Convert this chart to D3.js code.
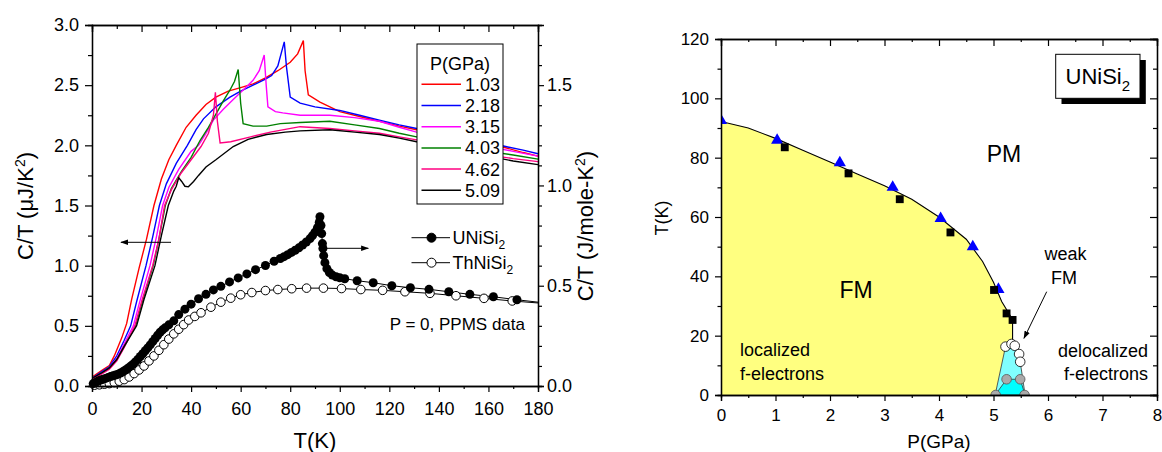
<!DOCTYPE html>
<html>
<head>
<meta charset="utf-8">
<script src="https://cdn.jsdelivr.net/npm/d3@7"></script>
<style>
  body { margin: 0; background: #fff; }
  text { font-family: "Liberation Sans", Arial, sans-serif; fill: #000; }
</style>
</head>
<body>
<svg id="chart" width="1162" height="452"></svg>
<script>
// ---------- left panel data: C/T (uJ/K^2) vs T(K) under pressure ----------
const pressures = ['1.03', '2.18', '3.15', '4.03', '4.62', '5.09'];

const ct103 = [[0.5,0.08],[4,0.13],[7,0.17],[9,0.25],[12,0.4],[14,0.52],[16,0.72],[19,0.98],[22,1.22],[25,1.5],[28,1.72],[31,1.88],[34,2.0],[38,2.15],[42,2.25],[46,2.34],[50,2.4],[55,2.45],[60,2.48],[65,2.51],[70,2.56],[75,2.62],[80,2.69],[83,2.76],[85.3,2.87],[86,2.62],[87.3,2.42],[92,2.36],[100,2.28],[108,2.24],[116,2.2],[124,2.16],[131,2.13],[140,2.09],[150,2.05],[160,2.01],[167,1.98],[174,1.94],[180,1.91]];
const ct218 = [[0.5,0.07],[4,0.12],[7,0.16],[10,0.25],[13,0.38],[15.6,0.5],[18,0.7],[21.8,1.0],[24.5,1.24],[27.2,1.5],[30,1.68],[34,1.85],[38.5,2.0],[42,2.13],[45,2.22],[50,2.32],[55.7,2.4],[60,2.45],[65,2.5],[70,2.55],[72.5,2.58],[75,2.66],[77.6,2.86],[78.5,2.65],[80,2.4],[84,2.35],[90,2.32],[100,2.29],[108,2.25],[116,2.21],[124,2.17],[131,2.14],[140,2.1],[150,2.06],[160,2.02],[167,1.99],[174,1.96],[180,1.93]];
const ct315 = [[0.5,0.06],[4,0.11],[7,0.15],[10,0.23],[13,0.35],[16.7,0.5],[19,0.68],[23.4,1.0],[26,1.24],[28.5,1.5],[31,1.65],[35,1.8],[40,1.95],[43,2.0],[46,2.1],[49,2.21],[53,2.3],[57,2.38],[61,2.46],[65,2.54],[67.5,2.62],[69.5,2.75],[70.3,2.5],[71,2.32],[74,2.28],[77,2.27],[84,2.25],[96,2.25],[106,2.23],[116,2.2],[124,2.15],[131,2.11],[140,2.07],[150,2.03],[160,1.99],[170,1.95],[180,1.91]];
const ct403 = [[0.5,0.06],[4,0.11],[7,0.15],[10,0.22],[13,0.33],[17.6,0.5],[20,0.68],[24.7,1.0],[27,1.22],[29.6,1.5],[32,1.64],[36,1.78],[40,1.9],[43.6,2.04],[47,2.15],[50.3,2.27],[53,2.37],[55.7,2.46],[57.5,2.53],[59,2.63],[60,2.35],[61,2.18],[65,2.16],[70.5,2.16],[76,2.18],[84,2.19],[96,2.2],[106,2.17],[116,2.14],[124,2.1],[131,2.07],[140,2.03],[150,1.99],[160,1.95],[170,1.92],[180,1.885]];
const ct462 = [[0.5,0.06],[4,0.1],[7,0.14],[10,0.21],[13,0.32],[17.3,0.5],[20,0.7],[24.5,1.0],[27,1.22],[29.3,1.5],[32,1.63],[36,1.77],[40,1.88],[44,1.99],[47,2.1],[49,2.25],[49.8,2.44],[50.6,2.2],[51.7,2.02],[56,2.03],[64,2.07],[72,2.11],[84,2.155],[96,2.14],[106,2.12],[116,2.1],[124,2.07],[131,2.045],[140,2.0],[150,1.96],[160,1.92],[170,1.89],[180,1.865]];
const ct509 = [[0.5,0.07],[4,0.11],[7,0.15],[10,0.22],[13,0.33],[18,0.5],[21,0.72],[25.4,1.0],[28,1.25],[30.8,1.5],[33,1.62],[34,1.66],[35,1.73],[36.2,1.7],[37.5,1.66],[38.9,1.655],[41,1.7],[43,1.75],[46,1.82],[50,1.88],[57,1.99],[63,2.05],[70.5,2.09],[78,2.11],[84,2.12],[96,2.13],[106,2.11],[116,2.09],[124,2.06],[131,2.03],[140,1.99],[150,1.95],[160,1.91],[170,1.87],[180,1.84]];
const pressureCurves = [ct103, ct218, ct315, ct403, ct462, ct509];
const curveColors = ['#ff0000', '#0000ff', '#ff00ff', '#008000', '#ff0080', '#000000'];

// P = 0 data, C/T in J/mole-K^2 (right axis)
const uniSi2 = [[0.5,0.012],[1.5,0.018],[2.5,0.025],[3.5,0.03],[4.5,0.034],[5.5,0.038],[6.5,0.043],[7.5,0.047],[8.5,0.051],[9.5,0.055],[10.5,0.059],[11.5,0.065],[12.5,0.072],[13.5,0.08],[14.5,0.089],[15.5,0.098],[16.5,0.108],[17.5,0.12],[18.5,0.133],[19.5,0.147],[20.5,0.161],[21.5,0.176],[22.5,0.19],[23.5,0.205],[24.5,0.221],[25.5,0.237],[26.5,0.253],[27.5,0.268],[28.5,0.28],[29.5,0.29],[31,0.305],[33,0.325],[35,0.356],[37.5,0.383],[40,0.408],[43,0.435],[46,0.457],[49,0.479],[52,0.497],[55.5,0.519],[59,0.539],[62.5,0.559],[66,0.58],[70,0.601],[73.5,0.622],[76,0.636],[77.5,0.645],[79,0.655],[80.5,0.666],[82,0.677],[83.5,0.689],[85,0.703],[86.5,0.718],[88,0.735],[89,0.75],[90,0.767],[91,0.79],[91.7,0.815],[92,0.844],[92.4,0.8],[92.7,0.76],[93,0.71],[93.2,0.686],[93.5,0.65],[94,0.615],[94.8,0.585],[95.8,0.566],[97,0.553],[98.5,0.545],[100,0.54],[102,0.535],[107,0.525],[113.5,0.515],[121,0.5],[128.5,0.49],[136,0.482],[144,0.47],[152.5,0.457],[162,0.445],[171.5,0.43]];
const thNiSi2 = [[1,0.004],[3,0.006],[5,0.009],[7,0.012],[9,0.017],[11,0.024],[13,0.032],[15,0.045],[17,0.062],[19,0.08],[21,0.1],[23,0.125],[25,0.15],[27,0.178],[29,0.206],[31,0.234],[33,0.26],[35,0.283],[37,0.306],[39,0.329],[41.5,0.347],[44,0.365],[48,0.393],[52,0.418],[56,0.438],[60,0.455],[64.5,0.466],[70,0.476],[75,0.481],[80.6,0.485],[86.6,0.488],[93.4,0.488],[100.7,0.486],[108.5,0.481],[117.3,0.477],[126.3,0.47],[136.4,0.462],[146.9,0.45],[158.2,0.437],[169.6,0.424]];
const uniSi2LineEnd = [180, 0.418];
const thNiSi2LineEnd = [180, 0.414];

// ---------- right panel data: T(K) vs P(GPa) phase diagram ----------
const tcTriangles = [[0,92.5],[1.03,85.9],[2.18,78.3],[3.15,70],[4.03,59.5],[4.62,50],[5.09,35.6]];
const tcSquares = [[1.17,83.5],[2.34,74.7],[3.28,66],[4.21,54.8],[5.01,35.4],[5.24,27.5],[5.35,25.3]];
const boundary = [[0,92.2],[0.5,90],[1,86.5],[1.5,82.5],[2,78.5],[2.5,74.5],[3,70.5],[3.5,66],[4,60],[4.5,52.5],[4.8,45],[5,38],[5.15,31.5],[5.3,27],[5.35,25.3],[5.35,17]];
const weakOpen = [[5.22,16.3],[5.33,17.2],[5.39,16.6],[5.47,13.8],[5.49,11.2]];
const weakGray = [[5.24,5.3],[5.49,5.3],[5.04,0],[5.57,0]];
const weakUpper = [[5.03,0],[5.22,16.3],[5.33,17.2],[5.39,16.6],[5.47,13.8],[5.49,11.2],[5.58,0]];
const weakLower = [[5.03,0],[5.24,5.3],[5.49,5.3],[5.58,0]];

const svg = d3.select('#chart');
svg.append('rect').attr('width', 1162).attr('height', 452).attr('fill', '#fff');

const defs = svg.append('defs');
defs.append('marker').attr('id', 'arrow')
  .attr('viewBox', '0 0 10 10').attr('refX', 9).attr('refY', 5)
  .attr('markerWidth', 8).attr('markerHeight', 8).attr('orient', 'auto')
  .attr('markerUnits', 'userSpaceOnUse')
  .append('path').attr('d', 'M0,1.5 L10,5 L0,8.5 Z').attr('fill', '#000');
defs.append('clipPath').attr('id', 'clipR')
  .append('rect').attr('x', 721).attr('y', 39).attr('width', 436).attr('height', 356);

function styleAxis(g, fontSize) {
  g.select('.domain').attr('stroke', '#000').attr('stroke-width', 1.3);
  g.selectAll('.tick line').attr('stroke', '#000').attr('stroke-width', 1.2);
  g.selectAll('.tick text').style('font-size', fontSize + 'px').attr('fill', '#000');
}

function addAxis(axis, x, y, fontSize) {
  const g = svg.append('g').attr('transform', `translate(${x},${y})`).call(axis);
  styleAxis(g, fontSize);
  return g;
}

// ================= LEFT PANEL =================
const xT = d3.scaleLinear().domain([0, 180]).range([92, 538]);
const yL = d3.scaleLinear().domain([0, 3]).range([386, 25]);
const yR = d3.scaleLinear().domain([0, 1.8]).range([386, 25]);
const f1 = d3.format('.1f');

// Pressure curves
const lineL = d3.line().x(d => xT(d[0])).y(d => yL(d[1]));
pressureCurves.forEach((c, i) => {
  svg.append('path').datum(c)
    .attr('d', lineL).attr('fill', 'none')
    .attr('stroke', curveColors[i]).attr('stroke-width', 1.4);
});

// P = 0 data (right axis)
const lineR = d3.line().x(d => xT(d[0])).y(d => yR(d[1]));
svg.append('path').datum(thNiSi2.concat([thNiSi2LineEnd]))
  .attr('d', lineR).attr('fill', 'none').attr('stroke', '#000').attr('stroke-width', 1);
svg.append('path').datum(uniSi2.concat([uniSi2LineEnd]))
  .attr('d', lineR).attr('fill', 'none').attr('stroke', '#000').attr('stroke-width', 1);
svg.append('g').selectAll('circle').data(thNiSi2).join('circle')
  .attr('cx', d => xT(d[0])).attr('cy', d => yR(d[1])).attr('r', 4.3)
  .attr('fill', '#fff').attr('stroke', '#000').attr('stroke-width', 1);
svg.append('g').selectAll('circle').data(uniSi2).join('circle')
  .attr('cx', d => xT(d[0])).attr('cy', d => yR(d[1])).attr('r', 4.5)
  .attr('fill', '#000');

// Axes
addAxis(d3.axisBottom(xT).tickValues(d3.range(0, 181, 20)).tickSize(6).tickPadding(10), 0, 386, 18);
addAxis(d3.axisBottom(xT).tickValues(d3.range(10, 180, 20)).tickSize(3).tickFormat(''), 0, 386, 18);
addAxis(d3.axisTop(xT).tickValues(d3.range(0, 181, 20)).tickSize(-7).tickFormat(''), 0, 25, 18);
addAxis(d3.axisTop(xT).tickValues(d3.range(10, 180, 20)).tickSize(-4).tickFormat(''), 0, 25, 18);
addAxis(d3.axisLeft(yL).tickValues(d3.range(0, 3.01, 0.5)).tickSize(7).tickPadding(6).tickFormat(f1), 92, 0, 18);
addAxis(d3.axisLeft(yL).tickValues(d3.range(0.25, 3, 0.5)).tickSize(4).tickFormat(''), 92, 0, 18);
addAxis(d3.axisRight(yR).tickValues([0, 0.5, 1.0, 1.5]).tickSize(6).tickPadding(3).tickFormat(f1), 538, 0, 18);
addAxis(d3.axisRight(yR).tickValues(d3.range(0.1, 1.75, 0.1).filter(v => Math.abs(v * 2 - Math.round(v * 2)) > 0.01)).tickSize(4).tickFormat(''), 538, 0, 18);

// Axis titles
svg.append('text').attr('transform', 'translate(33,206) rotate(-90)')
  .attr('text-anchor', 'middle').style('font-size', '22px')
  .html('C/T (&#956;J/K<tspan dy="-8" style="font-size:14px">2</tspan><tspan dy="8">)</tspan>');
svg.append('text').attr('transform', 'translate(593,226) rotate(-90)')
  .attr('text-anchor', 'middle').style('font-size', '22px')
  .html('C/T (J/mole-K<tspan dy="-8" style="font-size:14px">2</tspan><tspan dy="8">)</tspan>');
svg.append('text').attr('x', 315).attr('y', 448).attr('text-anchor', 'middle')
  .style('font-size', '22px').text('T(K)');

// Pressure legend
const lg = svg.append('g');
lg.append('rect').attr('x', 417).attr('y', 44).attr('width', 86).attr('height', 160)
  .attr('fill', '#fff').attr('stroke', '#000').attr('stroke-width', 1);
lg.append('text').attr('x', 460).attr('y', 70).attr('text-anchor', 'middle')
  .style('font-size', '18px').text('P(GPa)');
pressures.forEach((p, i) => {
  const y = 84.3 + i * 21.2;
  lg.append('line').attr('x1', 421.5).attr('x2', 461).attr('y1', y).attr('y2', y)
    .attr('stroke', curveColors[i]).attr('stroke-width', 1.5);
  lg.append('text').attr('x', 465).attr('y', y + 6.5).style('font-size', '18px').text(p);
});

// Compound legend
const cl = svg.append('g');
[['UNiSi', '#000', 237.7], ['ThNiSi', '#fff', 262.7]].forEach(([name, fill, y]) => {
  cl.append('line').attr('x1', 411.5).attr('x2', 450).attr('y1', y).attr('y2', y)
    .attr('stroke', '#000').attr('stroke-width', 1);
  cl.append('circle').attr('cx', 431.5).attr('cy', y).attr('r', 4.5)
    .attr('fill', fill).attr('stroke', '#000').attr('stroke-width', 1);
  cl.append('text').attr('x', 452.5).attr('y', y + 6.5).style('font-size', '18px')
    .html(`${name}<tspan dy="5" style="font-size:12px">2</tspan>`);
});
svg.append('text').attr('x', 525).attr('y', 330).attr('text-anchor', 'end')
  .style('font-size', '17px').text('P = 0, PPMS data');

// Arrows pointing to the axes
svg.append('line').attr('x1', 171).attr('y1', 242.3).attr('x2', 121).attr('y2', 242.3)
  .attr('stroke', '#000').attr('stroke-width', 1).attr('marker-end', 'url(#arrow)');
svg.append('line').attr('x1', 326.7).attr('y1', 248.3).attr('x2', 368.3).attr('y2', 248.3)
  .attr('stroke', '#000').attr('stroke-width', 1).attr('marker-end', 'url(#arrow)');

// ================= RIGHT PANEL =================
const xP = d3.scaleLinear().domain([0, 8]).range([721, 1157]);
const yK = d3.scaleLinear().domain([0, 120]).range([395, 39]);
const lineP = d3.line().x(d => xP(d[0])).y(d => yK(d[1]));

const plotR = svg.append('g').attr('clip-path', 'url(#clipR)');

// FM region (yellow)
const fmRegion = [[0, 0]].concat(boundary, weakUpper.slice(0, 2).reverse());
plotR.append('path').datum(fmRegion).attr('d', d => lineP(d) + 'Z')
  .attr('fill', '#ffff80').attr('stroke', 'none');
// weak FM regions (cyan)
plotR.append('path').datum(weakUpper).attr('d', d => lineP(d) + 'Z')
  .attr('fill', '#80ffff').attr('stroke', '#333').attr('stroke-width', 0.8);
plotR.append('path').datum(weakLower).attr('d', d => lineP(d) + 'Z')
  .attr('fill', '#00ffff').attr('stroke', '#333').attr('stroke-width', 0.8);
// boundary line
plotR.append('path').datum(boundary).attr('d', lineP)
  .attr('fill', 'none').attr('stroke', '#000').attr('stroke-width', 1.1);

// markers
plotR.append('g').selectAll('path').data(tcTriangles).join('path')
  .attr('transform', d => `translate(${xP(d[0])},${yK(d[1])})`)
  .attr('d', d3.symbol(d3.symbolTriangle, 64))
  .attr('fill', '#0000ff');
plotR.append('g').selectAll('path').data(tcSquares).join('path')
  .attr('transform', d => `translate(${xP(d[0])},${yK(d[1])})`)
  .attr('d', d3.symbol(d3.symbolSquare, 62))
  .attr('fill', '#000');
plotR.append('g').selectAll('circle').data(weakGray).join('circle')
  .attr('cx', d => xP(d[0])).attr('cy', d => yK(d[1])).attr('r', 4.8)
  .attr('fill', '#aaaaaa').attr('stroke', '#555').attr('stroke-width', 0.8);
plotR.append('g').selectAll('circle').data(weakOpen).join('circle')
  .attr('cx', d => xP(d[0])).attr('cy', d => yK(d[1])).attr('r', 4.8)
  .attr('fill', '#fff').attr('stroke', '#000').attr('stroke-width', 0.8);

// Axes
addAxis(d3.axisBottom(xP).tickValues(d3.range(0, 9, 1)).tickSize(6).tickPadding(8), 0, 395, 17);
addAxis(d3.axisBottom(xP).tickValues(d3.range(0.5, 8, 1)).tickSize(3).tickFormat(''), 0, 395, 17);
addAxis(d3.axisTop(xP).tickValues(d3.range(0, 9, 1)).tickSize(-7).tickFormat(''), 0, 39, 17);
addAxis(d3.axisTop(xP).tickValues(d3.range(0.5, 8, 1)).tickSize(-3).tickFormat(''), 0, 39, 17);
addAxis(d3.axisLeft(yK).tickValues(d3.range(0, 121, 20)).tickSize(6).tickPadding(6), 721, 0, 17);
addAxis(d3.axisLeft(yK).tickValues(d3.range(10, 120, 20)).tickSize(3.5).tickFormat(''), 721, 0, 17);
addAxis(d3.axisLeft(yK).tickValues(d3.range(0, 121, 20)).tickSize(7).tickFormat(''), 1157, 0, 17);
addAxis(d3.axisLeft(yK).tickValues(d3.range(10, 120, 20)).tickSize(4).tickFormat(''), 1157, 0, 17);

svg.append('text').attr('transform', 'translate(668,218) rotate(-90)')
  .attr('text-anchor', 'middle').style('font-size', '18px').text('T(K)');
svg.append('text').attr('x', 939).attr('y', 448).attr('text-anchor', 'middle')
  .style('font-size', '19px').text('P(GPa)');

// region labels
svg.append('text').attr('x', 1004).attr('y', 161.5).attr('text-anchor', 'middle')
  .style('font-size', '23px').text('PM');
svg.append('text').attr('x', 856).attr('y', 298).attr('text-anchor', 'middle')
  .style('font-size', '23px').text('FM');
svg.append('text').attr('x', 740).attr('y', 356).style('font-size', '18px').text('localized');
svg.append('text').attr('x', 740).attr('y', 379.5).style('font-size', '18px').text('f-electrons');
svg.append('text').attr('x', 1148).attr('y', 356.5).attr('text-anchor', 'end').style('font-size', '18px').text('delocalized');
svg.append('text').attr('x', 1148).attr('y', 379.5).attr('text-anchor', 'end').style('font-size', '18px').text('f-electrons');
svg.append('text').attr('x', 1065.5).attr('y', 260).attr('text-anchor', 'middle').style('font-size', '18px').text('weak');
svg.append('text').attr('x', 1064).attr('y', 283.5).attr('text-anchor', 'middle').style('font-size', '18px').text('FM');
svg.append('line').attr('x1', 1046.7).attr('y1', 291.7).attr('x2', 1024).attr('y2', 338.3)
  .attr('stroke', '#000').attr('stroke-width', 1).attr('marker-end', 'url(#arrow)');

// compound label box with shadow
svg.append('rect').attr('x', 1061.5).attr('y', 60).attr('width', 84.3).attr('height', 44).attr('fill', '#000');
svg.append('rect').attr('x', 1055.7).attr('y', 54.3).attr('width', 84.3).attr('height', 44)
  .attr('fill', '#fff').attr('stroke', '#000').attr('stroke-width', 1);
svg.append('text').attr('x', 1065.5).attr('y', 83.5).style('font-size', '22px')
  .html('UNiSi<tspan dy="7" style="font-size:15px">2</tspan>');
</script>
</body>
</html>
